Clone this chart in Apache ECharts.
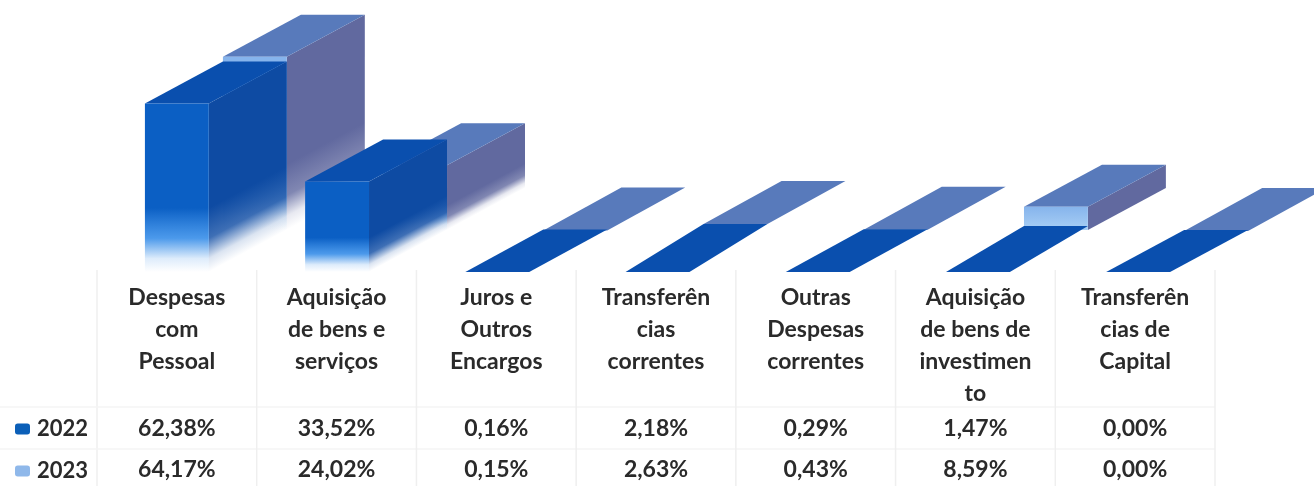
<!DOCTYPE html>
<html lang="pt">

<head>
    <meta charset="UTF-8">
    <title>Despesas 2022 / 2023</title>
    <style>
        * {
            margin: 0;
            padding: 0;
        }

        body {
            background: #fff;
        }

        #chart {
            width: 1314px;
            height: 486px;
            filter: blur(0.5px);
        }
    </style>
</head>

<body>
    <div id="chart"></div>
</body>

</html>
<script src="https://cdn.jsdelivr.net/npm/echarts@6/dist/echarts.min.js"></script>
<script>

    const categories = ['Despesas\ncom\nPessoal', 'Aquisição\nde bens e\nserviços', 'Juros e\nOutros\nEncargos',
        'Transferên\ncias\ncorrentes', 'Outras\nDespesas\ncorrentes', 'Aquisição\nde bens de\ninvestimen\nto',
        'Transferên\ncias de\nCapital'];
    const values2022 = [62.38, 33.52, 0.16, 2.18, 0.29, 1.47, 0.00];
    const values2023 = [64.17, 24.02, 0.15, 2.63, 0.43, 8.59, 0.00];

    const FONT = 'Lato, "Open Sans", sans-serif';
    const DEPTH_X = 78, DEPTH_Y = -42;
    const TEXT = '#2a2a2a', RULE = '#efefef';

    const colors = [
        { front: '#0b5fc4', frontLow: '#1f80e6', side: '#0e4ba3', top: '#0a4fae' },
        { front: '#86b4ec', frontLow: '#a9cff5', side: '#61699f', top: '#587abb' }
    ];

    function rgba(hex, a) {
        var n = parseInt(hex.slice(1), 16);
        return `rgba(${n >> 16},${(n >> 8) & 255},${n & 255},${a})`;
    }

    // soft white fade at the foot of the tall bars
    function fadeStops(low, high, fade) {
        if (!fade) return [{ offset: 0, color: low }, { offset: 1, color: high }];
        return [
            { offset: 0, color: rgba(low, 0) },
            { offset: 0.08, color: rgba(low, 0.15) },
            { offset: 0.2, color: rgba(low, 0.8) },
            { offset: 0.38, color: high },
            { offset: 1, color: high }
        ];
    }

    function drawBar(slot) {
        return function (params, api) {
            var idx = api.value(0);
            var base = api.coord([idx, 0]);
            var peak = api.coord([idx, api.value(1)]);
            var width = api.size([1, 0])[0] * 0.4;
            var c = colors[slot];

            var h = base[1] - peak[1];
            var left = base[0] - width / 2 + idx * 0.5 + slot * DEPTH_X;
            var right = left + width;
            var by = base[1] + slot * DEPTH_Y;
            var ty = by - h;
            var fade = h > 40;

            // very low bars read as one flat plane, no front or side visible
            if (h < 10) {
                var edge = slot === 0 ? by : ty + 1;
                return {
                    type: 'polygon',
                    shape: { points: [[left, edge], [left + DEPTH_X, ty + DEPTH_Y], [right + DEPTH_X, ty + DEPTH_Y], [right, edge]] },
                    style: { fill: c.top }
                };
            }

            var len2 = DEPTH_X * DEPTH_X + DEPTH_Y * DEPTH_Y;
            var k = h * DEPTH_X / len2;

            var front = {
                type: 'linear', x: 0, y: 1, x2: 0, y2: 0,
                colorStops: fadeStops(c.frontLow, c.front, fade)
            };
            var side = {
                type: 'linear', global: true,
                x: right, y: by,
                x2: right + DEPTH_Y * k, y2: by - DEPTH_X * k,
                colorStops: fadeStops(c.side, c.side, fade)
            };

            return {
                type: 'group',
                children: [
                    {
                        type: 'polygon',
                        shape: { points: [[right, by], [right + DEPTH_X, by + DEPTH_Y], [right + DEPTH_X, ty + DEPTH_Y], [right, ty]] },
                        style: { fill: side }
                    },
                    {
                        type: 'polygon',
                        shape: { points: [[left, ty], [left + DEPTH_X, ty + DEPTH_Y], [right + DEPTH_X, ty + DEPTH_Y], [right, ty]] },
                        style: { fill: c.top }
                    },
                    {
                        type: 'rect',
                        shape: { x: left, y: ty, width: width, height: h },
                        style: { fill: front }
                    }
                ]
            };
        };
    }

    // cell rules and the two rows of percentages under the chart
    function drawTable(params, api) {
        var idx = api.value(0);
        var x = api.coord([idx, 0])[0];
        var half = api.size([1, 0])[0] / 2;
        var pct = (v) => v.toFixed(2).replace('.', ',') + '%';
        var cell = (v, y) => ({
            type: 'text',
            style: { x: x, y: y, text: pct(v), align: 'center', verticalAlign: 'middle', fill: TEXT, font: `bold 23px ${FONT}` }
        });
        var rule = (xp) => ({
            type: 'line',
            shape: { x1: xp, y1: 270, x2: xp, y2: 486 },
            style: { stroke: RULE, lineWidth: 1.5 }
        });
        var children = [rule(x - half), cell(api.value(1), 429), cell(api.value(2), 470)];
        if (idx === categories.length - 1) children.push(rule(x + half));
        if (idx === 0) {
            [407, 449].forEach((y) => children.push({
                type: 'line',
                shape: { x1: 0, y1: y, x2: x + half * 13, y2: y },
                style: { stroke: '#f4f4f4', lineWidth: 1.5 }
            }));
        }
        return { type: 'group', children: children };
    }

    var myChart = echarts.init(document.getElementById('chart'));

    myChart.setOption({
        animation: false,
        backgroundColor: '#fff',
        grid: { left: 97, width: 1118, top: 2, height: 270 },
        legend: {
            data: ['2022', '2023'],
            orient: 'vertical',
            left: 15,
            top: 418,
            height: 68,
            padding: 0,
            itemWidth: 15,
            itemHeight: 11,
            itemGap: 20,
            selectedMode: false,
            textStyle: { fontFamily: FONT, fontWeight: 'bold', fontSize: 22, color: TEXT, padding: [0, 0, 0, 2] }
        },
        xAxis: {
            type: 'category',
            data: categories,
            axisLine: { show: false },
            axisTick: { show: false },
            axisLabel: {
                interval: 0,
                margin: 10,
                fontFamily: FONT,
                fontWeight: 'bold',
                fontSize: 23,
                lineHeight: 32,
                color: TEXT,
                verticalAlign: 'top'
            }
        },
        yAxis: { type: 'value', min: 0, max: 100, show: false },
        series: [
            {
                name: '2023',
                type: 'custom',
                renderItem: drawBar(1),
                itemStyle: { color: '#8fb8ea' },
                data: values2023.map((v, i) => [i, v]),
                z: 2
            },
            {
                name: '2022',
                type: 'custom',
                renderItem: drawBar(0),
                itemStyle: { color: '#0b5fb8' },
                data: values2022.map((v, i) => [i, v]),
                z: 3
            },
            {
                name: 'tabela',
                type: 'custom',
                renderItem: drawTable,
                silent: true,
                data: values2022.map((v, i) => [i, v, values2023[i]]),
                z: 1
            }
        ]
    });

</script>
